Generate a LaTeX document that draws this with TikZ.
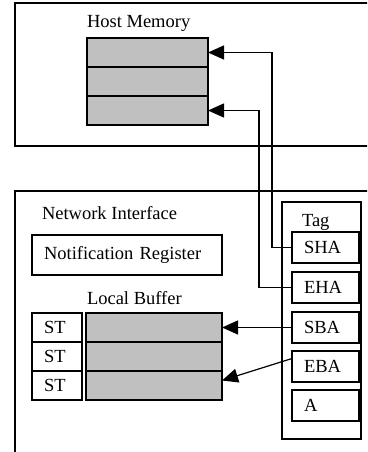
\documentclass[tikz,border=0pt]{standalone}
\usepackage{fontspec}
\setmainfont{Liberation Serif}
\usepackage{tikz}
\usetikzlibrary{arrows.meta,positioning}
\definecolor{cellgray}{RGB}{192,192,192}

\begin{document}
\begin{tikzpicture}[x=1pt,y=-1pt,
	every node/.style={font=\fontsize{18.5}{22}\selectfont,inner sep=0pt,outer sep=0pt},
	frame/.style={draw,line width=1.6pt,anchor=north west},
	cell/.style={draw,line width=1.4pt,fill=cellgray,anchor=north west,minimum height=29pt},
	field/.style={draw,line width=1.4pt,anchor=north west,inner xsep=12pt,align=left},
	link/.style={line width=1.2pt,-{Triangle[length=16pt,width=14pt]}}]
	\useasboundingbox (0,0) rectangle (367,452);
	\clip (0,0) rectangle (367,452);
	\node[frame,minimum width=420pt,minimum height=143pt] (host) at (15,3) {};
	\node[frame,minimum width=420pt,minimum height=300pt] (ni) at (15,191) {};
	\node[anchor=base west] (hosttitle) at (87,28) {Host Memory};
	\node[cell,minimum width=121pt] (hm1) at (87,38) {};
	\node[cell,minimum width=121pt] (hm2) at (87,67) {};
	\node[cell,minimum width=121pt] (hm3) at (87,96) {};
	\node[anchor=base west] (nititle) at (42,219) {Network Interface};
	\node[field,text width=166pt,minimum height=40pt] (notreg) at (32,235) {Notification Register};
	\node[anchor=base west] (buftitle) at (87,304) {Local Buffer};
	\node[field,text width=26pt,minimum height=29pt] (st1) at (32,313) {ST};
	\node[field,text width=26pt,minimum height=29pt] (st2) at (32,342) {ST};
	\node[field,text width=26pt,minimum height=29pt] (st3) at (32,371) {ST};
	\node[cell,minimum width=136pt] (lb1) at (86,313) {};
	\node[cell,minimum width=136pt] (lb2) at (86,342) {};
	\node[cell,minimum width=136pt] (lb3) at (86,371) {};
	\node[frame,line width=1.4pt,minimum width=79pt,minimum height=237pt] (tag) at (282,202) {};
	\node[anchor=base west] (tagtitle) at (302,226) {Tag};
	\node[field,text width=43pt,minimum height=31pt] (sha) at (292,232) {SHA};
	\node[field,text width=43pt,minimum height=31pt] (eha) at (292,272) {EHA};
	\node[field,text width=43pt,minimum height=31pt] (sba) at (292,312) {SBA};
	\node[field,text width=43pt,minimum height=31pt] (eba) at (292,351) {EBA};
	\node[field,text width=43pt,minimum height=31pt] (tga) at (292,390) {A};
	\draw[link] (sha.west) -- ++(-20,0) |- (hm1.east);
	\draw[link] (eha.west) -- ++(-33,0) |- (hm3.east);
	\draw[link] (sba.west) -- (lb1.east);
	\draw[link] ([yshift=8pt]eba.west) -- ([yshift=5pt]lb3.east);
\end{tikzpicture}
\end{document}
